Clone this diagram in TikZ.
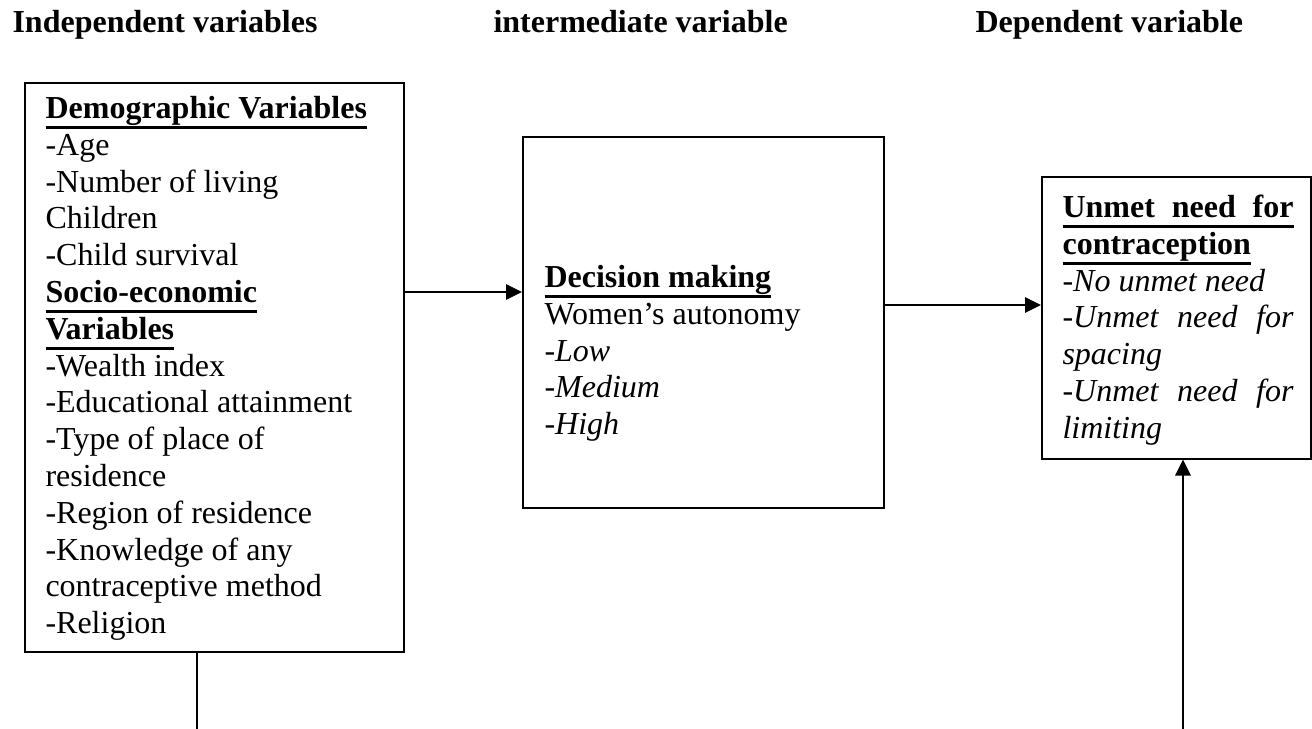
\documentclass[tikz,border=0pt]{standalone}
\usepackage{fontspec}
\setmainfont{Liberation Serif}
\usetikzlibrary{arrows.meta, positioning}

\newcommand{\pxu}{0.375pt}
\newcommand{\undl}[1]{\leavevmode\sbox0{#1}\rlap{\rule[-4pt]{\wd0}{1.1pt}}\usebox0}

\begin{document}
\begin{tikzpicture}[
    x=0.375pt, y=-0.375pt,
    >={Triangle[length=6pt, width=5.8pt]},
    font=\fontsize{12pt}{13.8pt}\selectfont,
    box/.style={draw, line width=0.6pt, inner sep=0pt, anchor=north west},
    txt/.style={inner sep=0pt, anchor=north west, align=flush left},
    head/.style={inner sep=0pt, anchor=base west,
                 font=\fontsize{12pt}{13.8pt}\selectfont\bfseries},
    arr/.style={->, line width=0.6pt}
  ]
  \useasboundingbox[fill=white] (0,0) rectangle (1312,729);

  % Column headings
  \node[head] (hindep) at (12,33) {Independent variables};
  \node[head] (hinter) at (493,33) {intermediate variable};
  \node[head] (hdep) at (975,33) {Dependent variable};

  % Boxes
  \node[box, minimum width={379*\pxu}, minimum height={569*\pxu}] (indep) at (24,82) {};
  \node[box, minimum width={361*\pxu}, minimum height={371*\pxu}] (inter) at (522,136) {};
  \node[box, minimum width={269*\pxu}, minimum height={282*\pxu}] (dep) at (1041,176) {};

  % Box contents
  \begin{scope}
    \clip (indep.north west) rectangle ([yshift=4.9pt]indep.south east);
    \node[txt, text width={345*\pxu}] (indeptext) at (45,91.3) {%
      \rule{0pt}{10pt}\undl{\textbf{Demographic Variables}}\\
      -Age\\
      -Number of living\\
      Children\\
      -Child survival\\
      \undl{\textbf{Socio-economic}}\\
      \undl{\textbf{Variables}}\\
      -Wealth index\\
      -Educational attainment\\
      -Type of place of\\
      residence\\
      -Region of residence\\
      -Knowledge of any\\
      contraceptive method\\
      -Religion};
  \end{scope}
  \node[txt, text width={320*\pxu}] (intertext) at (544,260.3) {%
    \rule{0pt}{10pt}\undl{\textbf{Decision making}}\\
    Women’s autonomy\\
    \textit{-Low}\\
    \textit{-Medium}\\
    \textit{-High}};
  \node[txt, text width={231*\pxu}] (deptext) at (1062,190.3) {%
    \rule{0pt}{10pt}\undl{\makebox[\hsize][s]{\bfseries Unmet\hfill need\hfill for}}\\
    \undl{\textbf{contraception}}\\
    \textit{-No unmet need}\\
    \makebox[\hsize][s]{\itshape -Unmet\hfill need\hfill for}\\
    \textit{spacing}\\
    \makebox[\hsize][s]{\itshape -Unmet\hfill need\hfill for}\\
    \textit{limiting}};

  % Connectors
  \coordinate (lvla) at (0,292);
  \coordinate (lvlb) at (0,305);
  \coordinate (stema) at (197,729);
  \coordinate (stemb) at (1183,729);
  \draw[arr] (indep.east |- lvla) -- (inter.west |- lvla);
  \draw[arr] (inter.east |- lvlb) -- (dep.west |- lvlb);
  \draw[line width=0.6pt] (indep.south -| stema) -- (stema);
  \draw[arr] (stemb) -- (dep.south -| stemb);
\end{tikzpicture}
\end{document}
